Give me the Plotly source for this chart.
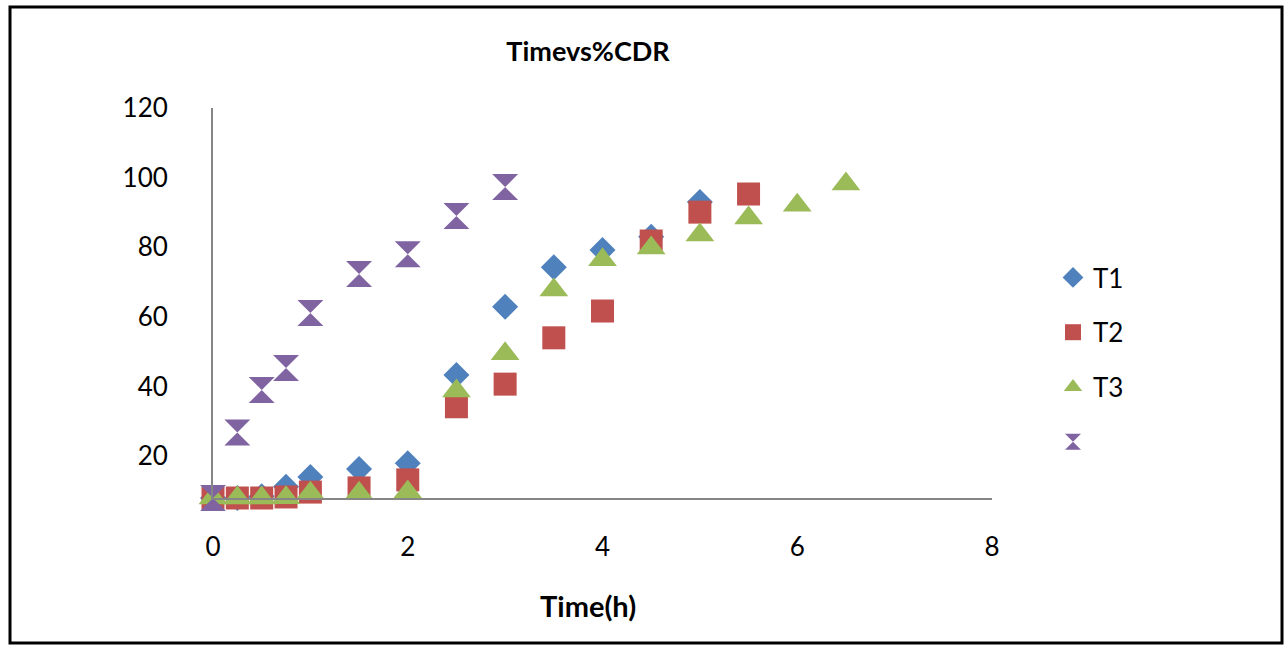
import plotly.graph_objects as go

time_T1 = [0, 0.25, 0.5, 0.75, 1, 1.5, 2, 2.5, 3, 3.5, 4, 4.5, 5]
cdr_T1 = [8, 8, 8.5, 11.2, 14, 16.3, 18, 43.3, 62.9, 74.3, 79.2, 83, 93]

time_T2 = [0, 0.25, 0.5, 0.75, 1, 1.5, 2, 2.5, 3, 3.5, 4, 4.5, 5, 5.5]
cdr_T2 = [8, 8, 8, 8.3, 9.7, 10.9, 13.2, 34.2, 40.7, 54, 61.7, 81.8, 90.1, 95.3]

time_T3 = [0, 0.25, 0.5, 0.75, 1, 1.5, 2, 2.5, 3, 3.5, 4, 4.5, 5, 5.5, 6, 6.5]
cdr_T3 = [8, 8, 8, 8.1, 9.4, 9.4, 9.7, 38.7, 49.4, 67.7, 76.4, 79.8, 83.5, 88.4, 92.1, 98.2]

time_T4 = [0, 0.25, 0.5, 0.75, 1, 1.5, 2, 2.5, 3]
cdr_T4 = [8, 26.8, 39, 45.3, 61.1, 72.3, 78, 89, 97.3]

x_ticks = [0, 2, 4, 6, 8]
y_ticks = [20, 40, 60, 80, 100, 120]

FONT = "Lato, 'Open Sans', sans-serif"

fig = go.Figure()
series = [
    ("T1", time_T1, cdr_T1, "diamond", "#4F81BD", 20),
    ("T2", time_T2, cdr_T2, "square", "#C0504D", 23),
    ("T3", time_T3, cdr_T3, "triangle-up", "#9BBB59", 25),
    ("", time_T4, cdr_T4, "hourglass", "#8064A2", 26),
]
for i, (name, xs, ys, sym, col, sz) in enumerate(series):
    fig.add_trace(go.Scatter(
        x=xs, y=ys, mode="markers", name=name, legendgroup=f"g{i}",
        marker=dict(symbol=sym, color=col, size=sz, line=dict(width=0)),
        cliponaxis=False,
    ))

W, H = 1284, 645
L, R, T, B = 213, 292, 108, 147
pw = W - L - R
ph = H - T - B

def px_x(x):
    return (x - L) / pw

def px_y(y):
    return (H - B - y) / ph

fig.update_layout(
    width=W, height=H,
    margin=dict(l=L, r=R, t=T, b=B, pad=0),
    paper_bgcolor="white", plot_bgcolor="white",
    font=dict(family=FONT, size=26, color="black"),
    title=dict(text="<b>Timevs%CDR</b>", x=588 / W, xanchor="center",
               y=1 - 52 / H, yanchor="middle", xref="container", yref="container",
               font=dict(family=FONT, size=27, color="black")),
    xaxis=dict(range=[0, 8], tickvals=x_ticks, showgrid=False, zeroline=False,
               showline=True, linecolor="#868686", linewidth=2, ticks="",
               ticklabelstandoff=25, tickfont=dict(size=26)),
    yaxis=dict(range=[8, 120], tickvals=y_ticks, showgrid=False, zeroline=False,
               showline=True, linecolor="#868686", linewidth=2, ticks="",
               ticklabelstandoff=38, tickfont=dict(size=26)),
    legend=dict(x=px_x(1053), xanchor="left", y=px_y(254), yanchor="top",
                font=dict(size=26), tracegroupgap=18, bgcolor="rgba(0,0,0,0)",
                itemsizing="trace"),
    showlegend=True,
    annotations=[dict(text="<b>Time(h)</b>", xref="paper", yref="paper",
                      x=px_x(588), y=px_y(605), xanchor="center", yanchor="middle",
                      showarrow=False, font=dict(family=FONT, size=29, color="black"))],
    shapes=[dict(type="rect", xref="paper", yref="paper",
                 x0=px_x(10), x1=px_x(1282), y0=px_y(643), y1=px_y(7),
                 line=dict(color="black", width=3), fillcolor="rgba(0,0,0,0)",
                 layer="below")],
)

fig.write_html("out.html")
